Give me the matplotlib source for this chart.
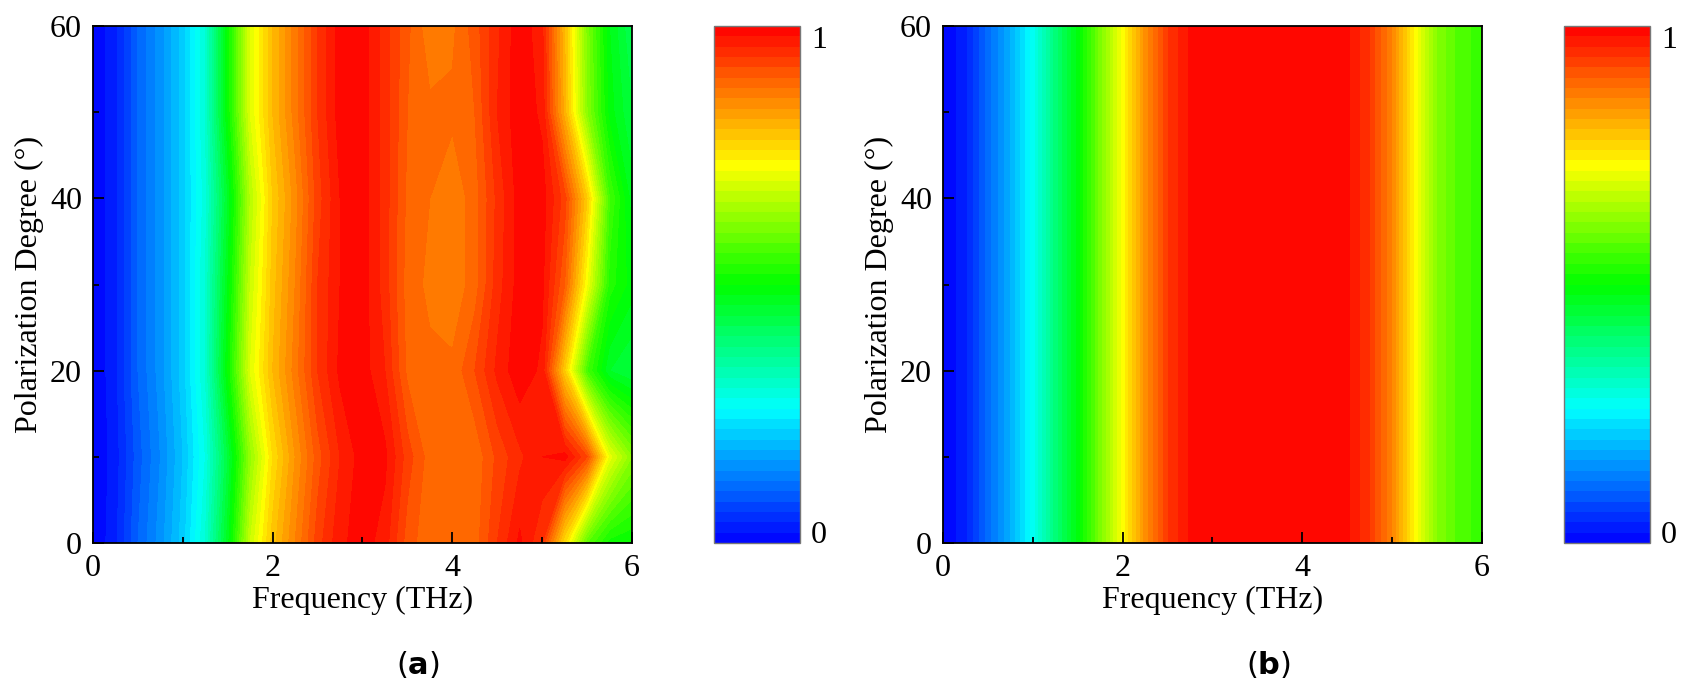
import numpy as np
import matplotlib
matplotlib.use("Agg")
import matplotlib.pyplot as plt
from matplotlib.colors import LinearSegmentedColormap

plt.rcParams['font.family'] = ['Liberation Serif', 'DejaVu Serif']
plt.rcParams['mathtext.fontset'] = 'dejavusans'

# frequency grid (THz) and polarization angles (deg)
freq = [0.0, 0.25, 0.5, 0.75, 1.0, 1.25, 1.5, 1.75, 2.0, 2.25, 2.5, 2.75, 3.0,
        3.25, 3.5, 3.75, 4.0, 4.25, 4.5, 4.75, 5.0, 5.25, 5.5, 5.75, 6.0]
angle = [0, 10, 20, 30, 40, 50, 60]

# (a) absorption, one row per angle
absorb_a_0 = [0.00, 0.035, 0.10, 0.15, 0.21, 0.30, 0.47, 0.68, 0.79, 0.86, 0.93, 0.975, 0.99,
              0.97, 0.91, 0.885, 0.885, 0.89, 0.94, 0.985, 0.94, 0.76, 0.58, 0.51, 0.50]
absorb_a_10 = [0.00, 0.03, 0.09, 0.14, 0.20, 0.28, 0.44, 0.63, 0.76, 0.84, 0.91, 0.96, 0.99,
               0.985, 0.93, 0.89, 0.885, 0.885, 0.925, 0.955, 0.98, 0.99, 0.92, 0.71, 0.62]
absorb_a_20 = [0.00, 0.035, 0.10, 0.15, 0.21, 0.30, 0.50, 0.70, 0.80, 0.87, 0.94, 0.985, 0.99,
               0.96, 0.895, 0.885, 0.885, 0.92, 0.965, 0.995, 0.975, 0.78, 0.56, 0.46, 0.44]
absorb_a_30 = [0.00, 0.035, 0.10, 0.15, 0.21, 0.30, 0.48, 0.68, 0.79, 0.86, 0.94, 0.98, 0.99,
               0.95, 0.89, 0.875, 0.865, 0.89, 0.95, 0.99, 0.985, 0.90, 0.72, 0.53, 0.49]
absorb_a_40 = [0.00, 0.035, 0.10, 0.15, 0.21, 0.29, 0.46, 0.66, 0.78, 0.85, 0.93, 0.98, 0.99,
               0.95, 0.895, 0.88, 0.865, 0.89, 0.945, 0.99, 0.99, 0.93, 0.78, 0.56, 0.47]
absorb_a_50 = [0.00, 0.035, 0.10, 0.15, 0.21, 0.30, 0.50, 0.70, 0.80, 0.87, 0.94, 0.99, 0.99,
               0.95, 0.90, 0.885, 0.885, 0.90, 0.96, 0.995, 0.975, 0.81, 0.62, 0.49, 0.44]
absorb_a_60 = [0.00, 0.035, 0.10, 0.15, 0.21, 0.30, 0.50, 0.70, 0.80, 0.87, 0.94, 0.99, 0.99,
               0.95, 0.905, 0.865, 0.875, 0.91, 0.955, 0.995, 0.965, 0.80, 0.61, 0.48, 0.42]

# (b) absorption, same at every polarization angle
absorb_b = [0.00, 0.035, 0.11, 0.18, 0.27, 0.39, 0.49, 0.61, 0.73, 0.85, 0.94, 0.985, 0.995,
            0.995, 0.995, 0.995, 0.995, 0.995, 0.985, 0.94, 0.86, 0.735, 0.62, 0.57, 0.55]

Z_a = np.array([absorb_a_0, absorb_a_10, absorb_a_20, absorb_a_30,
                absorb_a_40, absorb_a_50, absorb_a_60])
Z_b = np.tile(absorb_b, (len(angle), 1))
F, A = np.meshgrid(freq, angle)

rainbow = LinearSegmentedColormap.from_list(
    "rainbow_origin",
    [(0.0, (0, 0, 1)), (0.26, (0, 1, 1)), (0.5, (0, 1, 0)),
     (0.73, (1, 1, 0)), (1.0, (1, 0, 0))])
levels = np.linspace(0, 1, 51)

fig = plt.figure(figsize=(16.9, 6.97), dpi=100)
W, H = 1690, 697
fs = 23


def panel(x0, Z, tag):
    ax = fig.add_axes([x0 / W, 154 / H, 539 / W, 517 / H])
    cs = ax.contourf(F, A, Z, levels=levels, cmap=rainbow, vmin=0, vmax=1)
    ax.set_xlim(0, 6)
    ax.set_ylim(0, 60)
    ax.set_xticks([0, 2, 4, 6])
    ax.set_xticks([1, 3, 5], minor=True)
    ax.set_yticks([0, 20, 40, 60])
    ax.set_yticks([10, 30, 50], minor=True)
    ax.tick_params(which='both', direction='in', top=False, right=False,
                   labelsize=fs, width=1.3, pad=8)
    ax.tick_params(which='major', length=8)
    ax.tick_params(which='minor', length=4)
    for s in ax.spines.values():
        s.set_linewidth(1.3)
    ax.set_xlabel("Frequency (THz)", fontsize=fs, labelpad=2)
    ax.set_ylabel("Polarization Degree (\u00b0)", fontsize=fs, labelpad=4)

    cax = fig.add_axes([(x0 + 621) / W, 154 / H, 86 / W, 517 / H])
    cb = fig.colorbar(cs, cax=cax, ticks=[0, 1])
    cb.ax.set_yticklabels(["0", "1"])
    cb.ax.tick_params(length=0, labelsize=fs, pad=8)
    labs = cb.ax.get_yticklabels()
    labs[0].set_va('baseline')
    labs[1].set_va('top')
    cb.outline.set_edgecolor('#777777')
    cb.outline.set_linewidth(1.0)

    fig.text((x0 + 325) / W, 1 - 665 / H, r"($\mathbf{%s}$)" % tag,
             fontsize=22, family='DejaVu Sans', ha='center', va='center')


panel(93, Z_a, 'a')
panel(943, Z_b, 'b')

fig.savefig("out.png", dpi=100)
